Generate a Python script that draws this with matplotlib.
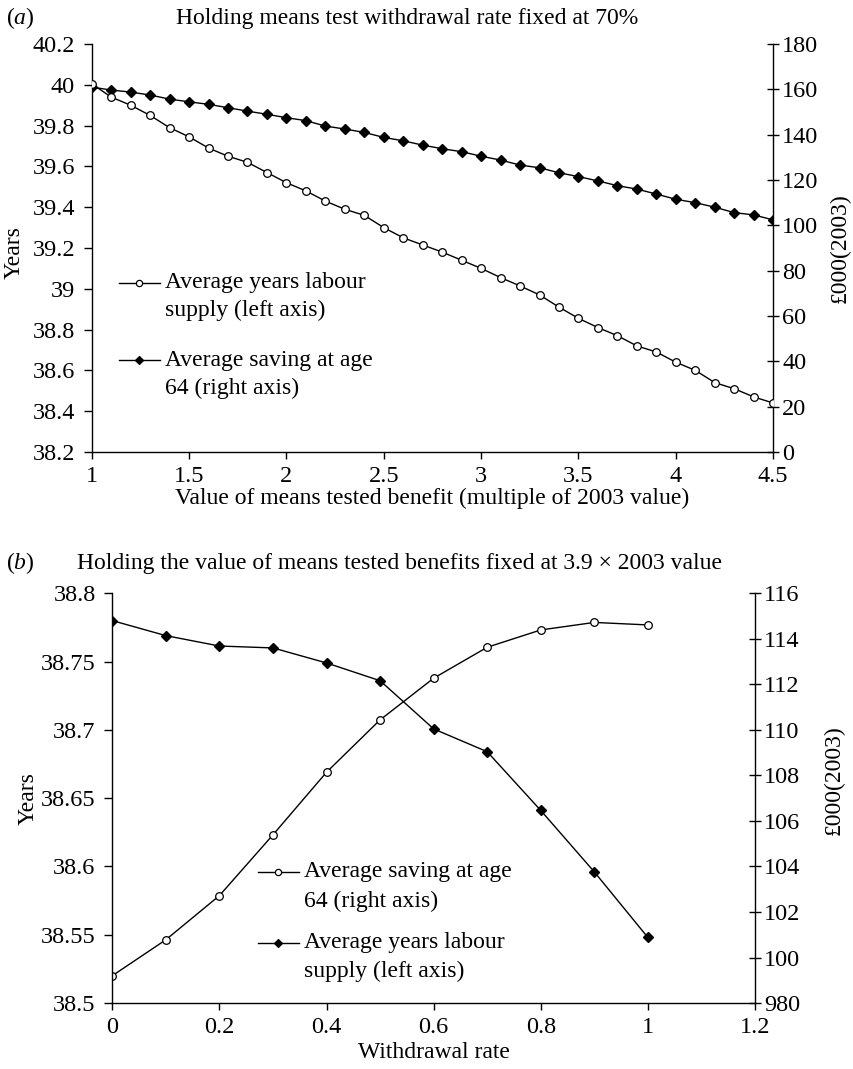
import matplotlib
matplotlib.use("Agg")
import matplotlib.pyplot as plt
from matplotlib.ticker import FixedLocator, FixedFormatter

plt.rcParams["font.family"] = "Liberation Serif"
plt.rcParams["mathtext.fontset"] = "custom"
plt.rcParams["mathtext.rm"] = "Liberation Serif"
plt.rcParams["mathtext.it"] = "Liberation Serif:italic"

FS = 17
TFS = 17.5

# ---- panel (a): value of means tested benefit ----
benefit_mult = [1.0, 1.1, 1.2, 1.3, 1.4, 1.5, 1.6, 1.7, 1.8, 1.9,
                2.0, 2.1, 2.2, 2.3, 2.4, 2.5, 2.6, 2.7, 2.8, 2.9,
                3.0, 3.1, 3.2, 3.3, 3.4, 3.5, 3.6, 3.7, 3.8, 3.9,
                4.0, 4.1, 4.2, 4.3, 4.4, 4.5]
labour_a = [40.005, 39.94, 39.90, 39.85, 39.79, 39.745, 39.69, 39.65, 39.62, 39.57,
            39.52, 39.48, 39.43, 39.39, 39.36, 39.30, 39.25, 39.215, 39.18, 39.14,
            39.10, 39.055, 39.014, 38.97, 38.91, 38.855, 38.81, 38.77, 38.72, 38.69,
            38.64, 38.60, 38.54, 38.51, 38.47, 38.44]
saving_a = [161.0, 159.7, 158.8, 157.5, 155.7, 154.5, 153.4, 151.9, 150.4, 149.0,
            147.5, 146.2, 143.8, 142.5, 141.0, 138.8, 137.3, 135.4, 133.8, 132.5,
            130.5, 128.8, 126.6, 125.4, 123.2, 121.5, 119.6, 117.5, 116.0, 113.8,
            111.5, 110.0, 108.0, 105.6, 104.6, 102.4]

# ---- panel (b): withdrawal rate ----
withdrawal = [0.0, 0.1, 0.2, 0.3, 0.4, 0.5, 0.6, 0.7, 0.8, 0.9, 1.0]
labour_b = [38.780, 38.769, 38.7614, 38.760, 38.749, 38.736, 38.7007, 38.684, 38.641, 38.596, 38.548]
saving_b = [99.2, 100.78, 102.72, 105.39, 108.14, 110.44, 112.27, 113.63, 114.39, 114.72, 114.61]

ticks_a_left = [38.2, 38.4, 38.6, 38.8, 39.0, 39.2, 39.4, 39.6, 39.8, 40.0, 40.2]
ticks_a_right = [0, 20, 40, 60, 80, 100, 120, 140, 160, 180]
ticks_a_x = [1, 1.5, 2, 2.5, 3, 3.5, 4, 4.5]
ticks_b_left = [38.5, 38.55, 38.6, 38.65, 38.7, 38.75, 38.8]
ticks_b_right = [98, 100, 102, 104, 106, 108, 110, 112, 114, 116]
labels_b_right = ["980", "100", "102", "104", "106", "108", "110", "112", "114", "116"]
ticks_b_x = [0, 0.2, 0.4, 0.6, 0.8, 1.0, 1.2]

fig = plt.figure(figsize=(8.54, 10.69), dpi=100)


def style_axes(ax, ax2):
    for a in (ax, ax2):
        a.spines["top"].set_visible(False)
        a.set_facecolor("none")
        for s in a.spines.values():
            s.set_linewidth(1.0)
    ax.spines["right"].set_visible(False)
    ax2.spines["left"].set_visible(False)
    ax2.spines["bottom"].set_visible(False)
    ax.tick_params(axis="y", direction="out", length=6, width=1, labelsize=TFS, pad=6)
    ax.tick_params(axis="x", direction="out", length=5, width=1, labelsize=TFS, pad=5)
    ax2.tick_params(axis="y", direction="inout", length=9, width=1, labelsize=TFS, pad=2)


def fmt(vals):
    return ["%g" % v for v in vals]


def draw_legend(ax, entries, x0, y0, dy, line2_dy, hw):
    # entries: (marker, facecolor, line1, line2)
    for i, (mk, fc, l1, l2) in enumerate(entries):
        y = y0 - i * dy
        ax.plot([x0, x0 + hw], [y, y], color="black", lw=1, transform=ax.transAxes, clip_on=False)
        ax.plot([x0 + hw / 2], [y], marker=mk, ms=4.5, mfc=fc, mec="black",
                mew=0.9, transform=ax.transAxes, clip_on=False)
        ax.text(x0 + hw + 0.008, y, l1, fontsize=FS, va="center", ha="left", transform=ax.transAxes)
        ax.text(x0 + hw + 0.008, y - line2_dy, l2, fontsize=FS, va="center", ha="left", transform=ax.transAxes)


# ================= panel (a) =================
axa = fig.add_axes([0.1074, 0.5772, 0.798, 0.3816])
axa2 = axa.twinx()
axa.plot(benefit_mult, labour_a, color="black", lw=1, marker="o", ms=5.5, mfc="white", mec="black", mew=0.9, zorder=3)
axa2.plot(benefit_mult, saving_a, color="black", lw=1, marker="D", ms=5.5, mfc="black", mec="black", zorder=3)
axa.set_xlim(1, 4.5)
axa.set_ylim(38.2, 40.2)
axa2.set_ylim(0, 180)
axa.yaxis.set_major_locator(FixedLocator(ticks_a_left))
axa.yaxis.set_major_formatter(FixedFormatter(fmt(ticks_a_left)))
axa2.yaxis.set_major_locator(FixedLocator(ticks_a_right))
axa2.yaxis.set_major_formatter(FixedFormatter(fmt(ticks_a_right)))
axa.xaxis.set_major_locator(FixedLocator(ticks_a_x))
axa.xaxis.set_major_formatter(FixedFormatter(fmt(ticks_a_x)))
style_axes(axa, axa2)
axa.set_zorder(axa2.get_zorder() + 1)
axa.set_xlabel("Value of means tested benefit (multiple of 2003 value)", fontsize=FS, labelpad=1)
axa.set_ylabel("Years", fontsize=FS)
axa.yaxis.set_label_coords(-0.098, 0.49)
axa2.set_ylabel("£000(2003)", fontsize=FS)
axa2.yaxis.set_label_coords(1.083, 0.50)
draw_legend(axa, [("o", "white", "Average years labour", "supply (left axis)"),
                  ("D", "black", "Average saving at age", "64 (right axis)")],
            0.04, 0.415, 0.19, 0.068, 0.06)

fig.text(6 / 854, 1 - 24 / 1069, "($\\it{a}$)", fontsize=FS, va="baseline", ha="left")
fig.text(407 / 854, 1 - 24 / 1069, "Holding means test withdrawal rate fixed at 70%",
         fontsize=FS, va="baseline", ha="center")

# ================= panel (b) =================
axb = fig.add_axes([0.1315, 0.0617, 0.7526, 0.3833])
axb2 = axb.twinx()
axb.plot(withdrawal, labour_b, color="black", lw=1, marker="D", ms=5.5, mfc="black", mec="black", zorder=3)
axb2.plot(withdrawal, saving_b, color="black", lw=1, marker="o", ms=5.5, mfc="white", mec="black", mew=0.9, zorder=3)
axb.set_xlim(0, 1.2)
axb.set_ylim(38.5, 38.8)
axb2.set_ylim(98, 116)
axb.yaxis.set_major_locator(FixedLocator(ticks_b_left))
axb.yaxis.set_major_formatter(FixedFormatter(fmt(ticks_b_left)))
axb2.yaxis.set_major_locator(FixedLocator(ticks_b_right))
axb2.yaxis.set_major_formatter(FixedFormatter(labels_b_right))
axb.xaxis.set_major_locator(FixedLocator(ticks_b_x))
axb.xaxis.set_major_formatter(FixedFormatter(fmt(ticks_b_x)))
style_axes(axb, axb2)
axb.set_zorder(axb2.get_zorder() + 1)
axb.set_xlabel("Withdrawal rate", fontsize=FS, labelpad=3)
axb.set_ylabel("Years", fontsize=FS)
axb.yaxis.set_label_coords(-0.115, 0.5)
axb2.set_ylabel("£000(2003)", fontsize=FS)
axb2.yaxis.set_label_coords(1.106, 0.545)
draw_legend(axb, [("o", "white", "Average saving at age", "64 (right axis)"),
                  ("D", "black", "Average years labour", "supply (left axis)")],
            0.227, 0.32, 0.173, 0.071, 0.063)

fig.text(6 / 854, 1 - 569 / 1069, "($\\it{b}$)", fontsize=FS, va="baseline", ha="left")
fig.text(400 / 854, 1 - 569 / 1069, "Holding the value of means tested benefits fixed at 3.9 × 2003 value",
         fontsize=FS, va="baseline", ha="center")

fig.savefig("out.png", dpi=100, facecolor="white")
